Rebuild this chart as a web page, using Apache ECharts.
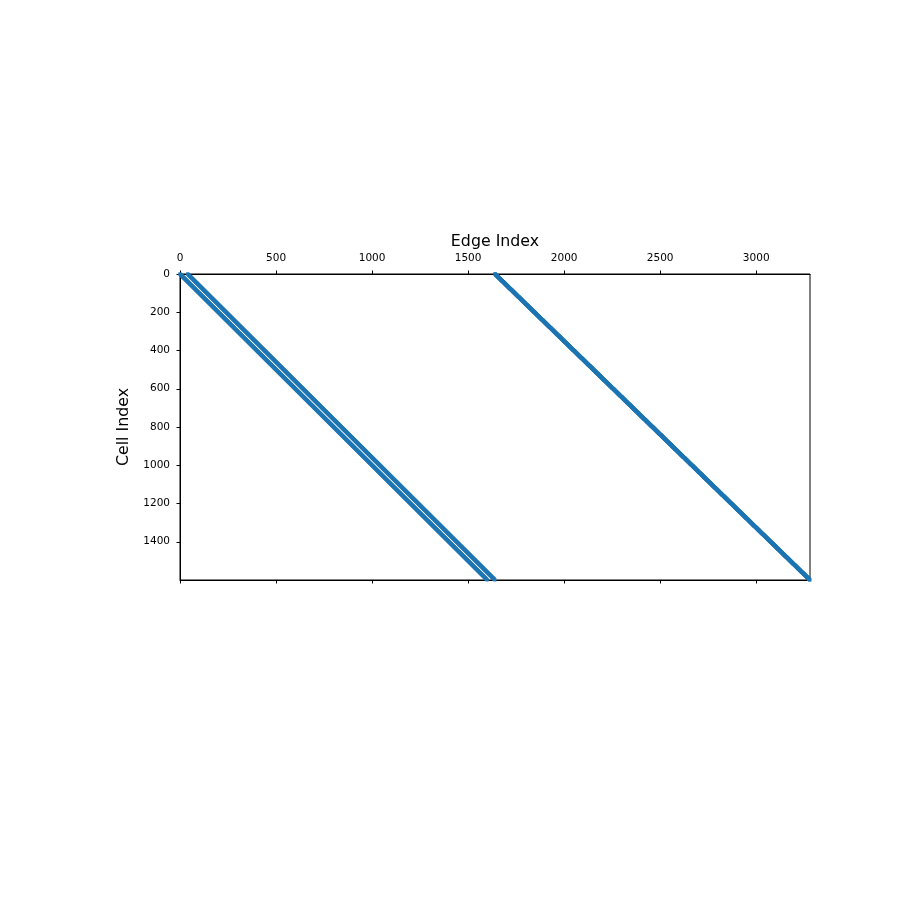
<!DOCTYPE html>
<html>
<head>
<meta charset="utf-8">
<script src="https://cdn.jsdelivr.net/npm/echarts@6/dist/echarts.min.js"></script>
<style>html,body{margin:0;padding:0;background:#fff}#c{width:900px;height:900px}</style>
</head>
<body>
<div id="c"></div>
<script>
// Mesh that defines the sparse cell-edge incidence matrix (40 x 40 cells)
var gridCols = 40;
var gridRows = 40;
var nCells = 1600;
var nEdges = 3280;
var xTicks = [0, 500, 1000, 1500, 2000, 2500, 3000];
var yTicks = [0, 200, 400, 600, 800, 1000, 1200, 1400];
var xTitle = 'Edge Index';
var yTitle = 'Cell Index';

// nonzero entries (edge, cell) of the incidence matrix
var nonzeros = [];
var nHoriz = gridCols * (gridRows + 1);
for (var r = 0; r < gridRows; r++) {
  for (var c = 0; c < gridCols; c++) {
    var cell = r * gridCols + c;
    nonzeros.push([cell, cell]);
    nonzeros.push([cell + gridCols, cell]);
    nonzeros.push([nHoriz + r * (gridCols + 1) + c, cell]);
    nonzeros.push([nHoriz + r * (gridCols + 1) + c + 1, cell]);
  }
}

var chart = echarts.init(document.getElementById('c'), null, {renderer: 'canvas'});
var font = 'DejaVu Sans';
var axisLineStyle = {color: '#000', width: 1};
var fmt = function (v) { return String(v); };
chart.setOption({
  animation: false,
  backgroundColor: '#fff',
  grid: {left: 180, right: 90, top: 274, bottom: 320, show: true, borderColor: '#000', borderWidth: 1, backgroundColor: 'transparent'},
  xAxis: [{
    type: 'value', position: 'top', min: 0, max: nEdges,
    name: xTitle, nameLocation: 'middle', nameGap: 24,
    nameTextStyle: {fontFamily: font, fontSize: 15.8, color: '#000'},
    axisLine: {show: true, lineStyle: axisLineStyle},
    axisTick: {show: true, inside: false, length: 3.5, lineStyle: axisLineStyle, customValues: xTicks},
    axisLabel: {show: true, fontFamily: font, fontSize: 10.5, color: '#000', margin: 10, formatter: fmt, customValues: xTicks},
    splitLine: {show: false}
  }, {
    type: 'value', position: 'bottom', min: 0, max: nEdges,
    axisLine: {show: true, lineStyle: axisLineStyle},
    axisTick: {show: true, inside: false, length: 3.5, lineStyle: axisLineStyle, customValues: xTicks},
    axisLabel: {show: false},
    splitLine: {show: false}
  }],
  yAxis: [{
    type: 'value', inverse: true, min: 0, max: nCells,
    name: yTitle, nameLocation: 'middle', nameGap: 43,
    nameTextStyle: {fontFamily: font, fontSize: 15.8, color: '#000'},
    axisLine: {show: true, lineStyle: axisLineStyle},
    axisTick: {show: true, inside: false, length: 3.5, lineStyle: axisLineStyle, customValues: yTicks},
    axisLabel: {show: true, fontFamily: font, fontSize: 10.5, color: '#000', margin: 10, formatter: fmt, customValues: yTicks},
    splitLine: {show: false}
  }],
  series: [{
    type: 'scatter',
    xAxisIndex: 0, yAxisIndex: 0,
    symbol: 'rect',
    symbolSize: 3.2,
    itemStyle: {color: '#1f77b4'},
    data: nonzeros,
    silent: true
  }]
});
</script>
</body>
</html>
